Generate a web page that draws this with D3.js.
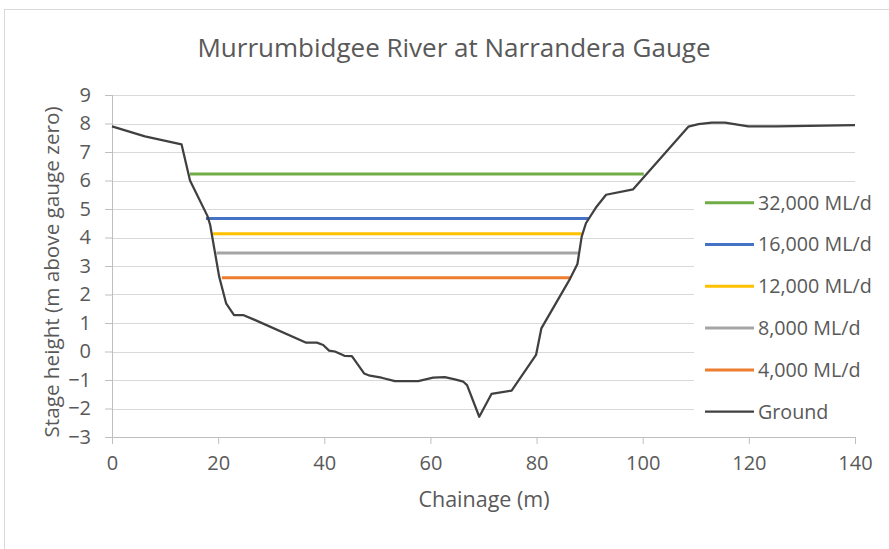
<!DOCTYPE html>
<html>
<head>
<meta charset="utf-8">
<title>Murrumbidgee River at Narrandera Gauge</title>
<script src="https://cdn.jsdelivr.net/npm/d3@7"></script>
<style>
  body { margin: 0; background: #fff; }
  text { font-family: 'Open Sans', sans-serif; fill: #595959; }
</style>
</head>
<body>
<div id="chart"></div>
<script>
// ---- data ----
const groundX = [0, 6.2, 13.1, 14.7, 18.0, 18.5, 20.2, 21.5, 23.0, 24.7, 27.0, 36.6, 38.6, 39.8,
                 40.9, 42.0, 43.8, 45.2, 47.5, 48.6, 50.8, 53.3, 57.7, 60.5, 62.7, 64.6, 66.2,
                 66.9, 69.2, 71.5, 75.3, 79.9, 80.9, 86.3, 87.7, 88.5, 89.3, 91.3, 93.1, 98.2,
                 108.6, 110.5, 113.0, 115.5, 119.9, 125.2, 140];
const groundY = [7.9, 7.55, 7.27, 6.0, 4.75, 4.44, 2.62, 1.69, 1.28, 1.28, 1.1, 0.31, 0.31, 0.23,
                 0.03, 0.0, -0.15, -0.16, -0.77, -0.85, -0.92, -1.04, -1.04, -0.92, -0.9, -0.98, -1.06,
                 -1.18, -2.29, -1.49, -1.37, -0.12, 0.81, 2.55, 3.07, 4.03, 4.5, 5.08, 5.5, 5.69,
                 7.89, 7.98, 8.03, 8.03, 7.9, 7.9, 7.94];

const flowLabels = ["32,000 ML/d", "16,000 ML/d", "12,000 ML/d", "8,000 ML/d", "4,000 ML/d"];
const flowLevels = [6.23, 4.67, 4.13, 3.46, 2.59];
const flowStart = [14.7, 17.7, 19.0, 19.7, 20.7];
const flowEnd = [100.2, 89.8, 88.5, 87.9, 86.4];
const flowColors = ["#70ad47", "#4472c4", "#ffc000", "#a5a5a5", "#ed7d31"];

const xTicks = [0, 20, 40, 60, 80, 100, 120, 140];
const yTicks = [-3, -2, -1, 0, 1, 2, 3, 4, 5, 6, 7, 8, 9];

// ---- layout ----
const width = 889, height = 549;
const margin = {top: 95, right: 34, bottom: 112, left: 112};

const svg = d3.select("#chart").append("svg")
    .attr("width", width)
    .attr("height", height);

// chart border
svg.append("rect")
    .attr("x", 4.5).attr("y", 9.5)
    .attr("width", width).attr("height", height)
    .attr("fill", "#fff")
    .attr("stroke", "#d9d9d9");

const x = d3.scaleLinear().domain([0, 140]).range([margin.left, width - margin.right]);
const y = d3.scaleLinear().domain([-3, 9]).range([height - margin.bottom, margin.top]);

// gridlines
svg.append("g")
    .selectAll("line")
    .data(yTicks.filter(d => d !== -3))
    .join("line")
    .attr("x1", x(0)).attr("x2", x(140))
    .attr("y1", d => Math.round(y(d)) + 0.5).attr("y2", d => Math.round(y(d)) + 0.5)
    .attr("stroke", "#d9d9d9");

// axes
const yAxis = svg.append("g")
    .attr("transform", `translate(${x(0)},0)`)
    .call(d3.axisLeft(y).tickValues(yTicks).tickSize(7).tickPadding(14));
const xAxis = svg.append("g")
    .attr("transform", `translate(0,${y(-3)})`)
    .call(d3.axisBottom(x).tickValues(xTicks).tickSize(7).tickPadding(12));
[xAxis, yAxis].forEach(a => {
  a.selectAll(".domain").attr("stroke", "#bfbfbf");
  a.selectAll(".tick line").attr("stroke", "#bfbfbf");
  a.selectAll("text").style("font-size", "20px").attr("fill", "#595959");
});
yAxis.selectAll(".domain").attr("d", `M0.5,${y(9)}V${y(-3)}`);

// flow levels
flowLevels.forEach((lv, i) => {
  svg.append("line")
      .attr("x1", x(flowStart[i])).attr("x2", x(flowEnd[i]))
      .attr("y1", y(lv)).attr("y2", y(lv))
      .attr("stroke", flowColors[i])
      .attr("stroke-width", 3);
});

// ground
const line = d3.line().x(d => x(d[0])).y(d => y(d[1]));
svg.append("path")
    .datum(d3.zip(groundX, groundY))
    .attr("d", line)
    .attr("fill", "none")
    .attr("stroke", "#404040")
    .attr("stroke-width", 2.25)
    .attr("stroke-linejoin", "round");

// legend (sits over the plot)
const legend = svg.append("g").attr("transform", "translate(694,185)");
legend.append("rect")
    .attr("width", 190).attr("height", 245)
    .attr("fill", "#fff");
const legItems = flowLabels.map((l, i) => ({label: l, color: flowColors[i]}))
    .concat([{label: "Ground", color: "#404040"}]);
const row = legend.selectAll("g.item")
    .data(legItems)
    .join("g")
    .attr("class", "item")
    .attr("transform", (d, i) => `translate(0,${17.7 + i * 41.8})`);
row.append("line")
    .attr("x1", 11).attr("x2", 60)
    .attr("stroke", d => d.color)
    .attr("stroke-width", (d, i) => i === 5 ? 2.25 : 3);
row.append("text")
    .attr("x", 64).attr("dy", "0.35em")
    .style("font-size", "19.7px")
    .text(d => d.label);

// titles
svg.append("text")
    .attr("x", 454).attr("y", 57)
    .attr("text-anchor", "middle")
    .style("font-size", "26px")
    .text("Murrumbidgee River at Narrandera Gauge");
svg.append("text")
    .attr("x", 484).attr("y", 507)
    .attr("text-anchor", "middle")
    .style("font-size", "21.5px")
    .text("Chainage (m)");
svg.append("text")
    .attr("transform", `translate(59,272) rotate(-90)`)
    .attr("text-anchor", "middle")
    .style("font-size", "20.7px")
    .text("Stage height (m above gauge zero)");
</script>
</body>
</html>
